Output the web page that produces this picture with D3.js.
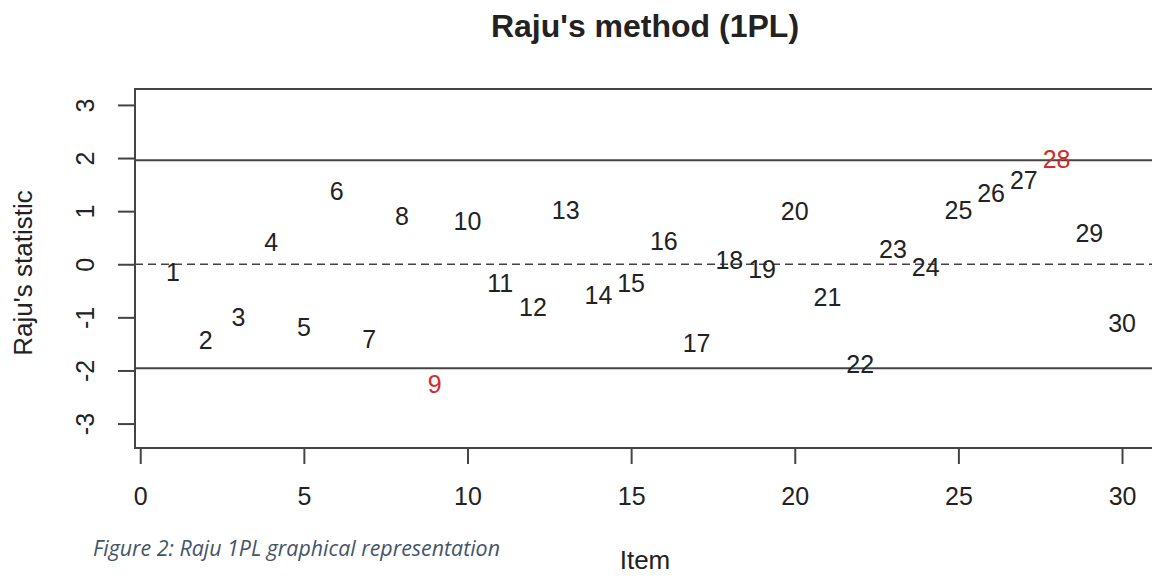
<!DOCTYPE html>
<html lang="en">
<head>
    <meta charset="UTF-8">
    <title>Raju's method (1PL)</title>
    <style>
        body {
            margin: 0;
            background: #fff;
        }
        svg text {
            font-family: "Liberation Sans", Arial, sans-serif;
            fill: #222;
        }
        .refline {
            stroke: #444;
            stroke-width: 2px;
        }
        .zeroline {
            stroke: #444;
            stroke-width: 1.6px;
            stroke-dasharray: 8, 5;
        }
    </style>
</head>
<body>
    <svg width="1152" height="579"></svg>
    <script src="https://d3js.org/d3.v7.min.js"></script>
    <script>
        // Raju statistic per item
        const items = d3.range(1, 31);
        const rajuStat = [
            -0.14, -1.43, -1.00, 0.42, -1.18, 1.37, -1.40, 0.91, -2.25, 0.82,
            -0.36, -0.80, 1.03, -0.58, -0.36, 0.44, -1.49, 0.08, -0.08, 1.00,
            -0.61, -1.87, 0.28, -0.05, 1.02, 1.34, 1.59, 1.98, 0.58, -1.11
        ];
        const flagged = [9, 28];
        const threshold = 1.96;
        const xTicks = [0, 5, 10, 15, 20, 25, 30];
        const yTicks = [-3, -2, -1, 0, 1, 2, 3];

        const svg = d3.select("svg");
        const plotLeft = 135, plotRight = 1160, plotTop = 89, plotBottom = 448;

        const x = d3.scaleLinear().domain([-0.16, 31.16]).range([plotLeft, plotRight]);
        const y = d3.scaleLinear().domain([-3.46, 3.30]).range([plotBottom, plotTop]);

        // reference lines
        svg.append("g")
            .selectAll("line")
            .data([threshold, -threshold])
            .enter().append("line")
            .attr("class", "refline")
            .attr("x1", plotLeft).attr("x2", plotRight)
            .attr("y1", d => y(d)).attr("y2", d => y(d));

        svg.append("line")
            .attr("class", "zeroline")
            .attr("x1", plotLeft).attr("x2", plotRight)
            .attr("y1", y(0)).attr("y2", y(0));

        // item labels
        svg.append("g")
            .selectAll("text")
            .data(items)
            .enter().append("text")
            .attr("x", d => x(d))
            .attr("y", (d, i) => y(rajuStat[i]))
            .attr("dy", "0.36em")
            .attr("text-anchor", "middle")
            .style("font-size", "25px")
            .style("fill", d => flagged.includes(d) ? "#d42a2a" : "#222")
            .text(d => d);

        // box
        svg.append("rect")
            .attr("x", plotLeft).attr("y", plotTop)
            .attr("width", plotRight - plotLeft).attr("height", plotBottom - plotTop)
            .attr("fill", "none")
            .attr("stroke", "#444")
            .attr("stroke-width", 2);

        // axes (R style: plain integers, hyphen minus)
        const fmt = d => String(d);

        const xAxis = svg.append("g")
            .attr("transform", `translate(0,${plotBottom})`)
            .call(d3.axisBottom(x).tickValues(xTicks).tickFormat(fmt).tickSize(16));
        xAxis.select(".domain").remove();
        xAxis.selectAll("line").attr("stroke", "#444").attr("stroke-width", 2);
        xAxis.selectAll("text")
            .attr("y", 57).attr("dy", null)
            .style("font-size", "25px")
            .style("fill", "#222");

        const yAxis = svg.append("g")
            .attr("transform", `translate(${plotLeft},0)`)
            .call(d3.axisLeft(y).tickValues(yTicks).tickFormat(fmt).tickSize(17));
        yAxis.select(".domain").remove();
        yAxis.selectAll("line").attr("stroke", "#444").attr("stroke-width", 2);
        yAxis.selectAll("text")
            .attr("x", null).attr("dy", null)
            .attr("text-anchor", "middle")
            .attr("transform", "translate(-41,0) rotate(-90)")
            .style("font-size", "25px")
            .style("fill", "#222");

        // titles
        svg.append("text")
            .attr("x", 645).attr("y", 37)
            .attr("text-anchor", "middle")
            .style("font-size", "32px")
            .style("font-weight", "bold")
            .text("Raju's method (1PL)");

        svg.append("text")
            .attr("x", 645).attr("y", 569)
            .attr("text-anchor", "middle")
            .style("font-size", "26px")
            .text("Item");

        svg.append("text")
            .attr("transform", "translate(32,273) rotate(-90)")
            .attr("text-anchor", "middle")
            .style("font-size", "26px")
            .text("Raju's statistic");

        // figure caption
        svg.append("text")
            .attr("x", 93).attr("y", 556)
            .attr("textLength", 407)
            .attr("lengthAdjust", "spacingAndGlyphs")
            .style("font-family", "'Open Sans', sans-serif")
            .style("font-style", "italic")
            .style("font-size", "21px")
            .style("fill", "#44546a")
            .text("Figure 2: Raju 1PL graphical representation");
    </script>
</body>
</html>
